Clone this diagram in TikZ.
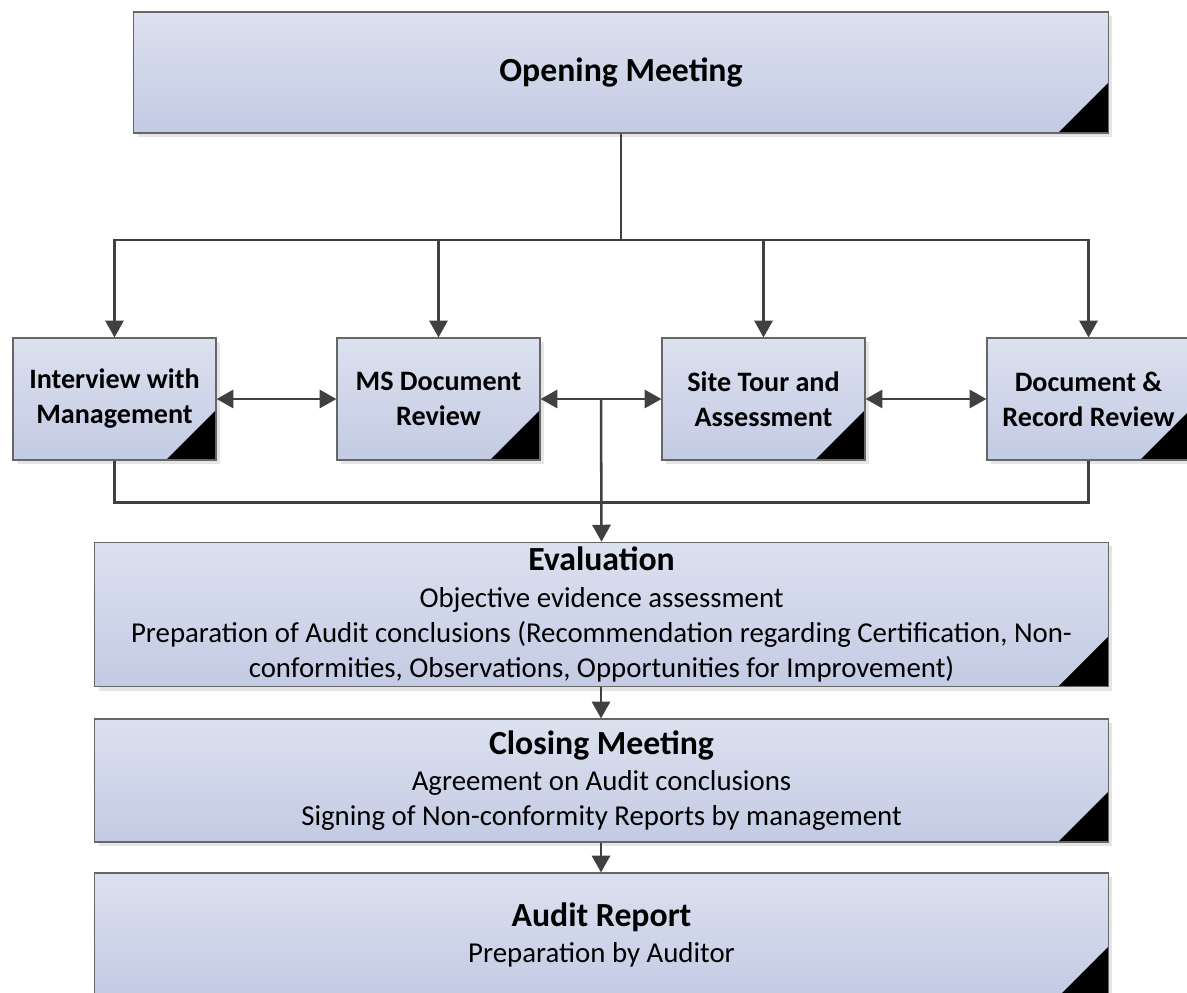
\documentclass[tikz,border=0pt]{standalone}
\usepackage{fontspec}
\setmainfont{Carlito}
\usetikzlibrary{arrows.meta, shadows, calc}

\definecolor{stagetop}{RGB}{220,225,239}
\definecolor{stagebot}{RGB}{195,203,228}
\definecolor{wire}{RGB}{64,64,64}

\newcommand{\stagehead}[1]{{\fontsize{24}{29}\selectfont\bfseries #1}}

\begin{document}
\begin{tikzpicture}[x=0.025cm, y=-0.025cm,
stage/.style={rectangle, draw=black!60, line width=0.8pt, top color=stagetop, bottom color=stagebot, align=center, font=\fontsize{20.5}{25}\selectfont, drop shadow={shadow xshift=0.1cm, shadow yshift=-0.1cm, fill=black!10, opacity=1}, path picture={\fill[black] (path picture bounding box.south east) -- ++(-1.25cm,0) -- ++(1.25cm,1.25cm) -- cycle;}},
task/.style={stage, minimum width=5.075cm, minimum height=3.05cm, font=\fontsize{20}{24.9}\selectfont\bfseries},
wide/.style={stage, minimum width=25.325cm},
link/.style={draw=wire, line width=1.8pt},
flow/.style={link, -{Triangle[length=12pt, width=13pt]}},
both/.style={link, {Triangle[length=12pt, width=13pt]}-{Triangle[length=12pt, width=13pt]}}]
\useasboundingbox (0,0) rectangle (1187,992);

%Opening
\node [stage, minimum width=24.35cm, minimum height=3.025cm] at (621,72.5) (open){\stagehead{Opening Meeting}};

%Audit activities
\node [task] at (114.5,399) (intv){Interview with\\Management};
\node [task] at (438.5,399) (msdoc){MS Document\\Review};
\node [task] at (763.5,399) (site){Site Tour and\\Assessment};
\node [task] at (1088.5,399) (recs){Document \&\\Record Review};

%Evaluation, closing and report
\node [wide, minimum height=3.575cm] at (601.5,614.5) (eval){\stagehead{Evaluation}\\[1pt]Objective evidence assessment\\Preparation of Audit conclusions (Recommendation regarding Certification, Non-\\conformities, Observations, Opportunities for Improvement)};
\node [wide, minimum height=3.075cm] at (601.5,780.5) (close){\stagehead{Closing Meeting}\\[1pt]Agreement on Audit conclusions\\Signing of Non-conformity Reports by management};
\node [wide, minimum height=3.1cm] at (601.5,935) (report){\stagehead{Audit Report}\\[1pt]Preparation by Auditor};

%Fan out
\coordinate (split) at (621,240);
\draw[link] (open.south) -- (split);
\draw[flow] (split) -| (intv.north);
\draw[flow] (split) -| (msdoc.north);
\draw[flow] (split) -| (site.north);
\draw[flow] (split) -| (recs.north);

%Between activities
\draw[both] (intv.east) -- (msdoc.west);
\draw[both] (msdoc.east) -- (site.west);
\draw[both] (site.east) -- (recs.west);

%Into evaluation
\coordinate (tee) at ($(msdoc.east)!0.5!(site.west)$);
\draw[flow] (tee) -- (eval.north);
\draw[link] (intv.south) -- ++(0,42) -| (recs.south);

\draw[flow] (eval.south -| tee) -- (close.north -| tee);
\draw[flow] (close.south -| tee) -- (report.north -| tee);
\end{tikzpicture}
\end{document}
